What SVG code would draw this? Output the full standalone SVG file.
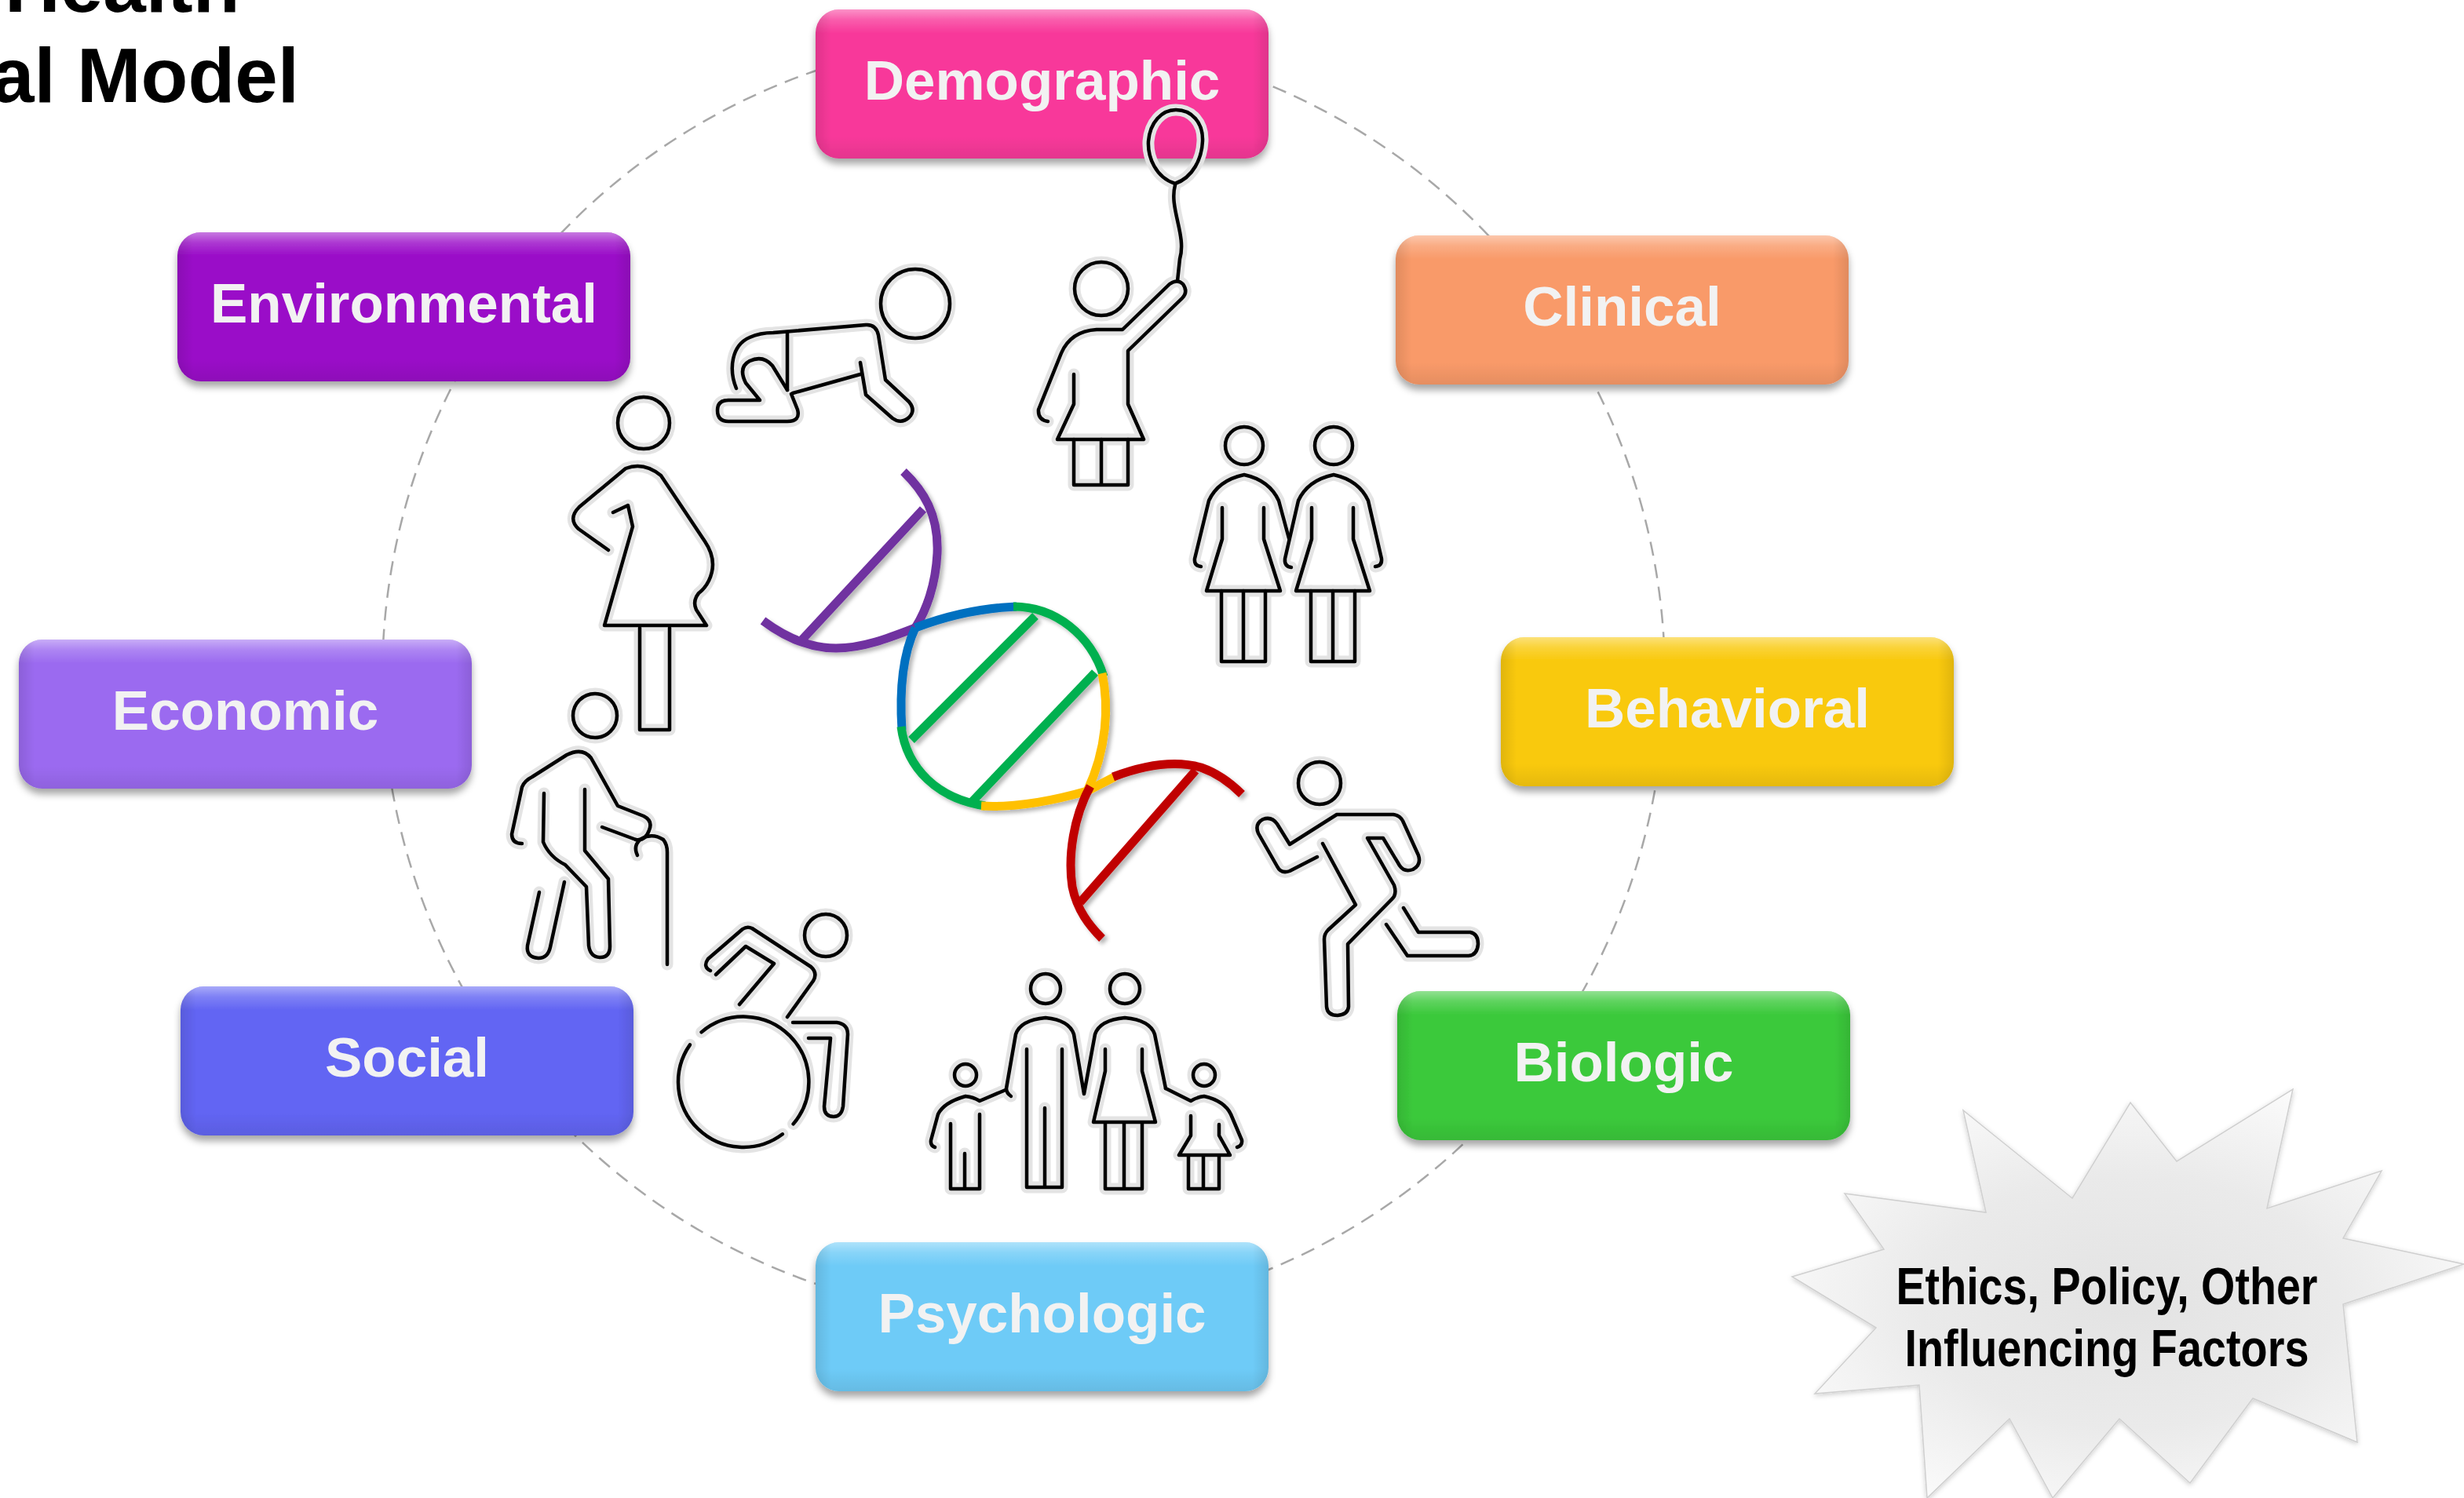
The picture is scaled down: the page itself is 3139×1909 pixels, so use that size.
<svg xmlns="http://www.w3.org/2000/svg" xmlns:xlink="http://www.w3.org/1999/xlink" width="3139" height="1909" viewBox="0 0 3139 1909">
  <defs>
    <style>
      .title { font-family: "Liberation Sans", Arial, sans-serif; font-weight: bold; font-size: 98px; fill: #000; }
      .ring { fill: none; stroke: #A8A8A8; stroke-width: 2.5; stroke-dasharray: 18 11; }
      .box { filter: url(#boxShadow); }
      .gloss { fill: url(#glossV); }
      .edge { fill: url(#glossH); }
      .label { font-family: "Liberation Sans", Arial, sans-serif; font-weight: bold; font-size: 71px; fill: #F2F2F2; text-anchor: middle; }
      .halo { fill: none; stroke: #E4E4E4; stroke-width: 15; stroke-linecap: round; stroke-linejoin: round; }
      .ink { fill: none; stroke: #000; stroke-width: 4.5; stroke-linecap: round; stroke-linejoin: round; }
      .dna { fill: none; stroke-width: 11; stroke-linecap: butt; stroke-linejoin: round; }
      .burst-text { font-family: "Liberation Sans Narrow", "Liberation Sans", Arial, sans-serif; font-weight: bold; font-size: 67px; fill: #000; text-anchor: middle; }
    </style>

    <linearGradient id="glossV" x1="0" y1="0" x2="0" y2="1">
      <stop offset="0" stop-color="#FFFFFF" stop-opacity="0.45"/>
      <stop offset="0.07" stop-color="#FFFFFF" stop-opacity="0.18"/>
      <stop offset="0.16" stop-color="#FFFFFF" stop-opacity="0"/>
      <stop offset="0.85" stop-color="#000000" stop-opacity="0"/>
      <stop offset="1" stop-color="#000000" stop-opacity="0.08"/>
    </linearGradient>
    <linearGradient id="glossH" x1="0" y1="0" x2="1" y2="0">
      <stop offset="0" stop-color="#000000" stop-opacity="0.10"/>
      <stop offset="0.035" stop-color="#000000" stop-opacity="0"/>
      <stop offset="0.965" stop-color="#000000" stop-opacity="0"/>
      <stop offset="1" stop-color="#000000" stop-opacity="0.10"/>
    </linearGradient>
    <radialGradient id="burstFill" cx="0.5" cy="0.52" r="0.62">
      <stop offset="0" stop-color="#E3E3E3"/>
      <stop offset="0.5" stop-color="#EAEAEA"/>
      <stop offset="0.8" stop-color="#F6F6F6"/>
      <stop offset="1" stop-color="#FFFFFF"/>
    </radialGradient>

    <filter id="boxShadow" x="-10%" y="-20%" width="120%" height="150%">
      <feDropShadow dx="0" dy="7" stdDeviation="5" flood-color="#000" flood-opacity="0.35"/>
    </filter>
    <filter id="dnaShadow" x="-10%" y="-10%" width="120%" height="120%">
      <feDropShadow dx="4" dy="4" stdDeviation="2.5" flood-color="#000" flood-opacity="0.28"/>
    </filter>
    <filter id="burstShadow" x="-10%" y="-10%" width="120%" height="120%">
      <feDropShadow dx="0" dy="2" stdDeviation="3" flood-color="#000" flood-opacity="0.2"/>
    </filter>

    <!-- icon outlines: drawn twice, a pale halo under a black line -->
    <g id="g-baby">
      <circle cx="1166" cy="387" r="44"/>
      <path d="M938,495 C928,470 932,440 955,430 Q968,424 985,424 L1103,414 Q1116,413 1119,427 L1128,484 L1158,512 Q1167,523 1158,532 Q1148,541 1137,533 L1103,503 L1096,462"/>
      <path d="M1096,477 L1010,501"/>
      <path d="M1003,424 L1003,497"/>
      <path d="M1008,502 L1016,522 Q1020,537 1003,537 L928,537 Q914,537 914,523 Q914,510 928,510 L968,510 L950,488 Q940,468 955,460 Q972,452 984,466 L1003,497"/>
    </g>
    <g id="g-girl">
      <circle cx="1403" cy="368" r="34"/>
      <path d="M1497,234 C1472,226 1462,200 1463,180 C1465,156 1480,140 1498,140 C1518,140 1533,156 1532,180 C1531,202 1520,226 1497,234 Z"/>
      <path d="M1497,236 C1489,265 1512,300 1503,330 L1500,358"/>
      <path d="M1335,537 Q1322,535 1323,522 L1352,450 Q1364,422 1397,420 L1430,420 L1490,362 Q1500,355 1507,362 Q1514,372 1506,380 L1437,447 L1437,515 L1457,560 L1347,560 L1368,515 L1368,477"/>
      <path d="M1368,560 L1368,618 L1437,618 L1437,560 M1403,560 L1403,618"/>
    </g>
    <g id="g-twins">
      <circle cx="1585" cy="568" r="24"/>
      <circle cx="1699" cy="568" r="24"/>
      <path d="M1530,722 Q1521,721 1522,712 L1540,638 Q1552,612 1585,605 Q1617,612 1629,638 L1642,686"/>
      <path d="M1557,647 L1557,687 L1537,753 L1631,753 L1610,687 L1610,647"/>
      <path d="M1556,753 V843 H1612 V753 M1584,753 V843"/>
      <path d="M1645,723 Q1636,722 1637,712 L1654,638 Q1666,612 1699,605 Q1731,612 1743,638 L1760,712 Q1761,721 1752,722"/>
      <path d="M1671,647 L1671,687 L1651,753 L1745,753 L1724,687 L1724,647"/>
      <path d="M1670,753 V843 H1726 V753 M1698,753 V843"/>
    </g>
    <g id="g-pregnant">
      <circle cx="820" cy="539" r="33"/>
      <path d="M775,701 L737,674 Q723,661 738,646 L797,597 Q820,588 842,606 L898,690 Q915,715 903,740 Q898,750 890,756 Q882,766 887,777 L900,797 L770,797 L806,671 L800,644 L781,653"/>
      <path d="M815,800 V930 H853 V800"/>
    </g>
    <g id="g-elder">
      <circle cx="758" cy="912" r="28"/>
      <path d="M665,1075 Q652,1075 652,1063 L665,1003 Q668,995 678,990 L722,962 Q742,952 753,966 L787,1027 L820,1040 Q832,1046 827,1058 Q822,1072 810,1070"/>
      <path d="M767,1054 L810,1070"/>
      <path d="M812,1090 Q806,1077 817,1069 Q831,1061 845,1070 Q850,1076 850,1086 L850,1229"/>
      <path d="M693,1011 L692,1073 Q700,1092 720,1102 L747,1130 L750,1205 Q752,1220 765,1220 Q777,1220 777,1206 L775,1120 L745,1084 L745,1006"/>
      <path d="M687,1137 L672,1205 Q670,1220 686,1221 Q698,1221 701,1207 L719,1124"/>
    </g>
    <g id="g-wheelchair">
      <circle cx="1052" cy="1192" r="27"/>
      <path d="M905,1237 Q895,1232 902,1222 L946,1184 Q952,1180 958,1183 L1033,1232 Q1042,1240 1036,1250 L1003,1296"/>
      <path d="M912,1242 L950,1206 L986,1228 L942,1280"/>
      <path d="M1010,1303 L1066,1303 Q1080,1305 1080,1318 L1074,1410 Q1072,1423 1062,1423 Q1050,1423 1050,1410 L1058,1323 L1030,1323"/>
      <path d="M893.6,1315.4 A83,83 0 0 1 1010.6,1432.4"/>
      <path d="M996.9,1445.3 A83,83 0 0 1 879,1331.4"/>
    </g>
    <g id="g-family">
      <circle cx="1332" cy="1260" r="19"/>
      <circle cx="1433" cy="1260" r="19"/>
      <circle cx="1230" cy="1370" r="14"/>
      <circle cx="1534" cy="1370" r="14"/>
      <path d="M1288,1397 Q1282,1393 1282,1387 L1294,1318 Q1300,1300 1332,1297 Q1362,1300 1368,1318 L1381,1394 L1395,1318 Q1401,1300 1433,1297 Q1465,1300 1471,1318 L1485,1387"/>
      <path d="M1308,1337 V1513 H1353 V1337 M1331,1412 V1513"/>
      <path d="M1408,1337 V1365 L1393,1430 H1472 L1455,1365 V1337 M1408,1430 V1515 H1455 V1430 M1432,1430 V1515"/>
      <path d="M1191,1462 Q1185,1460 1186,1453 L1195,1420 Q1202,1405 1230,1397 Q1240,1398 1248,1403 L1281,1389"/>
      <path d="M1211,1432 V1515 H1248 V1420 M1229,1470 V1515"/>
      <path d="M1485,1387 L1517,1403 Q1525,1398 1534,1397 Q1560,1403 1568,1420 L1582,1453 Q1583,1460 1576,1462"/>
      <path d="M1517,1422 V1447 L1502,1472 H1567 L1553,1447 V1433 M1514,1472 V1515 H1553 V1472 M1533,1472 V1515"/>
    </g>
    <g id="g-runner">
      <circle cx="1681" cy="998" r="27"/>
      <path d="M1678,1092 L1643,1110 Q1632,1114 1627,1104 L1603,1062 Q1598,1050 1609,1044 Q1620,1040 1627,1050 L1643,1076 L1703,1038 L1775,1038 Q1783,1039 1787,1046 L1807,1090 Q1811,1102 1800,1108 Q1789,1112 1783,1103 L1762,1068 L1742,1068 L1776,1128 Q1780,1140 1773,1146 L1717,1203 L1718,1283 Q1717,1293 1704,1294 Q1691,1294 1690,1283 L1687,1197 Q1687,1190 1692,1185 L1727,1153 L1685,1075"/>
      <path d="M1788,1157 L1807,1188 L1873,1188 Q1883,1190 1883,1203 Q1882,1217 1871,1218 L1793,1218 L1766,1178"/>
    </g>
  </defs>

  <rect x="0" y="0" width="3139" height="1909" fill="#FFFFFF"/>

  <!-- title, partly cut by the page edge -->
  <g id="title">
    <text class="title" x="6" y="15">Health</text>
    <text class="title" x="-11" y="130">al Model</text>
  </g>

  <!-- dashed orbit joining the factor boxes -->
  <g id="connectors">
    <circle class="ring" cx="1304" cy="863" r="817"/>
  </g>

  <!-- factor boxes -->
  <g id="node-demographic" class="box">
    <rect x="1039" y="12" width="577" height="190" rx="30" fill="#F8399A"/>
    <rect class="gloss" x="1039" y="12" width="577" height="190" rx="30"/>
    <rect class="edge" x="1039" y="12" width="577" height="190" rx="30"/>
    <text class="label" x="1327.5" y="127">Demographic</text>
  </g>
  <g id="node-environmental" class="box">
    <rect x="226" y="296" width="577" height="190" rx="30" fill="#9A0CC8"/>
    <rect class="gloss" x="226" y="296" width="577" height="190" rx="30"/>
    <rect class="edge" x="226" y="296" width="577" height="190" rx="30"/>
    <text class="label" x="514.5" y="411">Environmental</text>
  </g>
  <g id="node-clinical" class="box">
    <rect x="1778" y="300" width="577" height="190" rx="30" fill="#F99A69"/>
    <rect class="gloss" x="1778" y="300" width="577" height="190" rx="30"/>
    <rect class="edge" x="1778" y="300" width="577" height="190" rx="30"/>
    <text class="label" x="2066.5" y="415">Clinical</text>
  </g>
  <g id="node-economic" class="box">
    <rect x="24" y="815" width="577" height="190" rx="30" fill="#9B6AF0"/>
    <rect class="gloss" x="24" y="815" width="577" height="190" rx="30"/>
    <rect class="edge" x="24" y="815" width="577" height="190" rx="30"/>
    <text class="label" x="312.5" y="930">Economic</text>
  </g>
  <g id="node-behavioral" class="box">
    <rect x="1912" y="812" width="577" height="190" rx="30" fill="#F9C90C"/>
    <rect class="gloss" x="1912" y="812" width="577" height="190" rx="30"/>
    <rect class="edge" x="1912" y="812" width="577" height="190" rx="30"/>
    <text class="label" x="2200.5" y="927">Behavioral</text>
  </g>
  <g id="node-social" class="box">
    <rect x="230" y="1257" width="577" height="190" rx="30" fill="#6265F3"/>
    <rect class="gloss" x="230" y="1257" width="577" height="190" rx="30"/>
    <rect class="edge" x="230" y="1257" width="577" height="190" rx="30"/>
    <text class="label" x="518.5" y="1372">Social</text>
  </g>
  <g id="node-biologic" class="box">
    <rect x="1780" y="1263" width="577" height="190" rx="30" fill="#3BC93B"/>
    <rect class="gloss" x="1780" y="1263" width="577" height="190" rx="30"/>
    <rect class="edge" x="1780" y="1263" width="577" height="190" rx="30"/>
    <text class="label" x="2068.5" y="1378">Biologic</text>
  </g>
  <g id="node-psychologic" class="box">
    <rect x="1039" y="1583" width="577" height="190" rx="30" fill="#6ECBF7"/>
    <rect class="gloss" x="1039" y="1583" width="577" height="190" rx="30"/>
    <rect class="edge" x="1039" y="1583" width="577" height="190" rx="30"/>
    <text class="label" x="1327.5" y="1698">Psychologic</text>
  </g>

  <!-- life-stage figures round the helix -->
  <g id="icon-baby"><use href="#g-baby" class="halo"/><use href="#g-baby" class="ink"/></g>
  <g id="icon-girl"><use href="#g-girl" class="halo"/><use href="#g-girl" class="ink"/></g>
  <g id="icon-twins"><use href="#g-twins" class="halo"/><use href="#g-twins" class="ink"/></g>
  <g id="icon-pregnant"><use href="#g-pregnant" class="halo"/><use href="#g-pregnant" class="ink"/></g>
  <g id="icon-elder"><use href="#g-elder" class="halo"/><use href="#g-elder" class="ink"/></g>
  <g id="icon-wheelchair"><use href="#g-wheelchair" class="halo"/><use href="#g-wheelchair" class="ink"/></g>
  <g id="icon-family"><use href="#g-family" class="halo"/><use href="#g-family" class="ink"/></g>
  <g id="icon-runner"><use href="#g-runner" class="halo"/><use href="#g-runner" class="ink"/></g>

  <!-- double helix, one colour per turn -->
  <g id="dna" filter="url(#dnaShadow)">
    <g stroke="#7030A0">
      <path class="dna" d="M1151,601 C1176,625 1196,655 1194,705 C1192,745 1180,778 1166,800"/>
      <path class="dna" d="M972,791 C1000,812 1030,826 1065,826 C1100,826 1135,812 1166,800"/>
      <path class="dna" d="M1176,649 L1022,815"/>
    </g>
    <g stroke="#0070C0">
      <path class="dna" d="M1166,800 C1200,787 1245,775 1295,773"/>
      <path class="dna" d="M1166,800 C1152,830 1145,870 1149,930"/>
    </g>
    <g stroke="#00B050">
      <path class="dna" d="M1291,773 C1345,773 1390,810 1406,862"/>
      <path class="dna" d="M1148,926 C1155,980 1195,1018 1255,1027"/>
      <path class="dna" d="M1319,785 L1161,943"/>
      <path class="dna" d="M1395,857 L1239,1021"/>
    </g>
    <g stroke="#FFC000">
      <path class="dna" d="M1404,858 C1413,900 1410,955 1385,1008"/>
      <path class="dna" d="M1250,1027 C1300,1030 1350,1018 1385,1008 L1420,990"/>
    </g>
    <g stroke="#C00000">
      <path class="dna" d="M1389,1002 C1368,1040 1360,1090 1366,1130 C1372,1160 1388,1180 1404,1196"/>
      <path class="dna" d="M1418,990 C1455,976 1495,968 1530,978 C1550,985 1566,996 1582,1012"/>
      <path class="dna" d="M1523,982 L1376,1150"/>
    </g>
  </g>

  <!-- burst with the surrounding influences -->
  <g id="node-influences">
    <polygon filter="url(#burstShadow)" fill="url(#burstFill)" stroke="#CFCFCF" stroke-width="1.5"
      points="2283,1627 2400,1592 2350,1521 2530,1545 2501,1415 2640,1527 2714,1405 2773,1480 2921,1388 2888,1540 3034,1492 2985,1578 3139,1611 2985,1662 3003,1838 2870,1782 2790,1890 2700,1808 2615,1909 2560,1808 2455,1909 2445,1765 2312,1776 2390,1692"/>
    <text class="burst-text" x="2684" y="1662" textLength="537" lengthAdjust="spacingAndGlyphs">Ethics, Policy, Other</text>
    <text class="burst-text" x="2684" y="1741" textLength="515" lengthAdjust="spacingAndGlyphs">Influencing Factors</text>
  </g>
</svg>
